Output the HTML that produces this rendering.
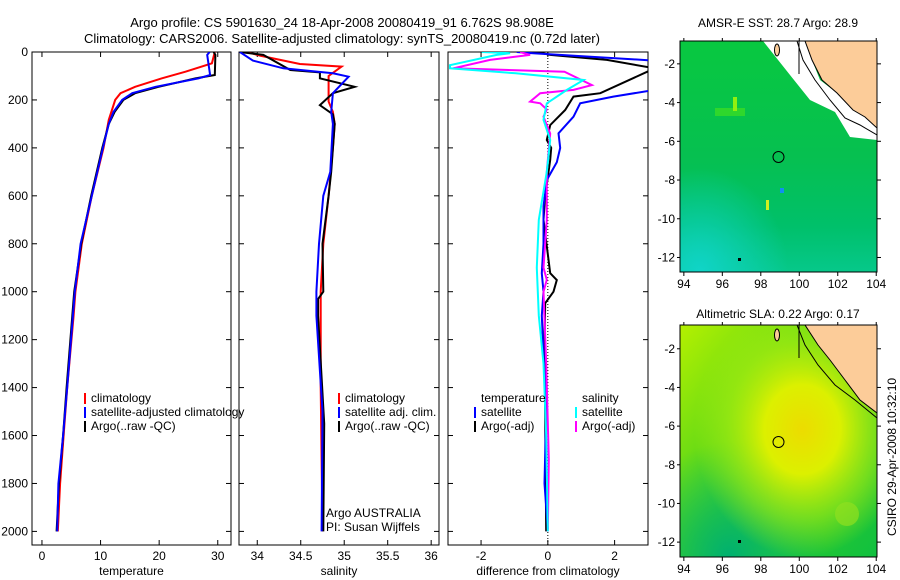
<!DOCTYPE html>
<html><head><meta charset="utf-8"><style>
html,body{margin:0;padding:0;background:#fff;}
svg{display:block;font-family:"Liberation Sans",sans-serif;}
text{font-size:12px;fill:#000;}
</style></head><body>
<svg id="chart" width="900" height="580" viewBox="0 0 900 580" xmlns="http://www.w3.org/2000/svg">
<defs>
<linearGradient id="sstg" x1="0" y1="0" x2="0" y2="1">
<stop offset="0" stop-color="#08c840"/><stop offset="0.5" stop-color="#06c050"/><stop offset="0.8" stop-color="#00c06a"/><stop offset="1" stop-color="#06c88a"/>
</linearGradient>
<radialGradient id="sstc" cx="0.1" cy="1" r="0.45"><stop offset="0" stop-color="#10d4c8"/><stop offset="1" stop-color="#10d4c8" stop-opacity="0"/></radialGradient>
<radialGradient id="slay" cx="0.62" cy="0.45" r="0.55"><stop offset="0" stop-color="#ecdc00"/><stop offset="0.35" stop-color="#dcf000"/><stop offset="0.7" stop-color="#a8ec10" stop-opacity="0.6"/><stop offset="1" stop-color="#a8ec10" stop-opacity="0"/></radialGradient>
<linearGradient id="slag" x1="0" y1="0" x2="1" y2="1"><stop offset="0" stop-color="#b4f000"/><stop offset="0.5" stop-color="#40d020"/><stop offset="1" stop-color="#10c040"/></linearGradient>
<radialGradient id="slab" cx="0.25" cy="1" r="0.5"><stop offset="0" stop-color="#00b070"/><stop offset="1" stop-color="#00b870" stop-opacity="0"/></radialGradient>
<clipPath id="c1"><rect x="32" y="52" width="199" height="493"/></clipPath>
<clipPath id="c2"><rect x="239" y="52" width="200" height="493"/></clipPath>
<clipPath id="c3"><rect x="448" y="52" width="200" height="493"/></clipPath>
<clipPath id="m1"><rect x="680" y="41" width="197" height="231"/></clipPath>
<clipPath id="m2"><rect x="680" y="325" width="197" height="232"/></clipPath>
</defs>
<text x="342" y="27" text-anchor="middle" style="font-size:13px">Argo profile: CS 5901630_24 18-Apr-2008 20080419_91 6.762S 98.908E</text>
<text x="342" y="43" text-anchor="middle" style="font-size:13px">Climatology: CARS2006. Satellite-adjusted climatology: synTS_20080419.nc (0.72d later)</text>
<g id="plots"></g>

<!-- Map 1 SST -->
<g clip-path="url(#m1)">
<rect x="680" y="41" width="197" height="231" fill="url(#sstg)"/>
<rect x="680" y="41" width="197" height="231" fill="url(#sstc)"/>
<rect x="715" y="108" width="30" height="8" fill="#40e020" opacity="0.7"/>
<rect x="733" y="97" width="4" height="14" fill="#90f010"/>
<rect x="766" y="200" width="3" height="10" fill="#d0f020"/>
<rect x="780" y="188" width="4" height="5" fill="#1090f0"/>
<polygon points="763,41 805,41 812,60 820,80 837,93 853,110 865,117 877,128 877,140 850,137 835,112 810,100 790,75" fill="#fff"/>
<polygon points="805,41 877,41 877,128 865,117 853,110 837,93 822,80 812,60" fill="#fccc99" stroke="#000" stroke-width="1"/>
<polyline points="797,41 803,60 815,80 830,100 845,118 860,125 877,135" fill="none" stroke="#000" stroke-width="1"/>
<ellipse cx="777" cy="50" rx="2.5" ry="6" fill="#fccc99" stroke="#000"/>
<line x1="799" y1="41" x2="799" y2="74" stroke="#000"/>
<circle cx="778.5" cy="157" r="5.5" fill="none" stroke="#000"/>
<rect x="738" y="258" width="3" height="3" fill="#000"/>
</g>
<rect x="680" y="41" width="197" height="231" fill="none" stroke="#000"/>
<text x="778" y="27" text-anchor="middle">AMSR-E SST: 28.7 Argo: 28.9</text>

<!-- Map 2 SLA -->
<g clip-path="url(#m2)">
<rect x="680" y="325" width="197" height="232" fill="url(#slag)"/>
<rect x="680" y="325" width="197" height="232" fill="url(#slab)"/>
<rect x="680" y="325" width="197" height="232" fill="url(#slay)"/>
<circle cx="847" cy="514" r="12" fill="#90e020" opacity="0.7"/>
<polygon points="805,325 877,325 877,413 860,400 845,380 830,360 818,345" fill="#fccc99" stroke="#000"/>
<polyline points="797,325 805,345 818,365 835,385 855,400 877,418" fill="none" stroke="#000"/>
<ellipse cx="777" cy="335" rx="2.5" ry="6" fill="#fccc99" stroke="#000"/>
<line x1="799" y1="325" x2="799" y2="358" stroke="#000"/>
<circle cx="778.5" cy="442" r="5.5" fill="none" stroke="#000"/>
<rect x="738" y="540" width="3" height="3" fill="#000"/>
</g>
<rect x="680" y="325" width="197" height="232" fill="none" stroke="#000"/>
<text x="778" y="318" text-anchor="middle">Altimetric SLA: 0.22 Argo: 0.17</text>
<text transform="translate(896,457) rotate(-90)" text-anchor="middle">CSIRO 29-Apr-2008 10:32:10</text>
<g id="maps"></g>
</svg>
<script>
// ---- data ----
const tDepth = [0,47,82,110,145,172,200,283,400,600,800,1000,1100,1400,1600,1800,2000];
const tClim  = [29.5,29.0,24.5,20.4,15.9,13.4,12.5,11.4,10.5,8.5,6.8,5.7,5.4,4.3,3.7,3.1,2.7];
const tSatDepth = [0,12,96,110,145,172,200,250,300,400,600,800,1000,1400,1600,1800,2000];
const tSat  = [28.6,28.2,28.7,26.7,19.4,15.4,13.7,12.2,11.4,10.4,8.5,6.6,5.6,4.3,3.6,2.8,2.6];
const tArgo = [29.3,29.6,29.5,26.2,19.9,15.9,13.9,12.4,11.4,10.3,8.4,6.7,5.5,4.2,3.6,2.9,2.5];
const sClimDepth = [0,15,50,61,100,207,250,300,400,600,800,1000,1400,2000];
const sClim = [33.88,34.03,34.49,34.97,34.82,34.82,34.87,34.89,34.87,34.82,34.76,34.73,34.73,34.75];
const sSatDepth = [0,36,68,89,103,172,250,300,500,600,800,1000,1100,1500,2000];
const sSat = [33.8,33.95,34.3,34.87,35.05,34.87,34.85,34.87,34.84,34.76,34.71,34.68,34.68,34.75,34.74];
const sArgoDepth = [0,12,75,85,110,145,172,222,260,300,500,600,800,1000,1030,1100,1550,2000];
const sArgo = [33.8,34.07,34.38,34.72,34.72,35.12,34.87,34.72,34.87,34.89,34.85,34.82,34.75,34.76,34.7,34.7,34.77,34.76];
const dTDepth = [0,5,36,158,186,214,270,339,400,460,534,645,800,923,1000,1100,1500,1800,1990];
const dTSat  = [-0.93,-0.44,3.2,3.2,1.96,0.97,0.77,0.32,0.37,0.27,-0.03,-0.13,-0.13,-0.18,-0.13,-0.18,-0.05,-0.1,0];
const dTArgoDepth = [0,12,33,68,172,186,242,305,367,400,450,600,700,923,951,1000,1048,1200,2000];
const dTArgo = [-0.33,0.07,1.77,3.2,1.57,0.77,0.52,0.07,-0.03,0.1,0.07,-0.08,-0.13,0.07,0.27,0.17,-0.08,-0.1,-0.05];
const dSDepth = [0,5,12,55,68,89,117,158,214,283,367,500,700,900,1100,1300,1600,2000];
const dSSat = [-1.98,-1.13,-1.53,-2.93,-2.93,-0.96,1.07,0.57,-0.03,-0.13,0.07,-0.03,-0.27,-0.33,-0.27,-0.13,-0.05,0];
const dSArgoDepth = [0,12,33,68,82,138,158,172,207,214,240,270,340,500,700,900,950,1000,1300,1700,2000];
const dSArgo = [-0.83,-0.53,-1.73,-2.83,0.5,1.32,0.77,-0.23,-0.53,-0.23,-0.03,-0.13,0.07,-0.03,-0.03,-0.13,-0.03,-0.13,-0.05,0.03,0];
const depthTicks = [0,200,400,600,800,1000,1200,1400,1600,1800,2000];
const tTicks = [0,10,20,30];
const sTicks = [34,34.5,35,35.5,36];
const dTicks = [-2,0,2];
const latTicks = [-2,-4,-6,-8,-10,-12];
const lonTicks = [94,96,98,100,102,104];

// ---- axes ----
const NS='http://www.w3.org/2000/svg';
const svg=document.getElementById('plots');
const top0=52, bot0=545;
const yD = d => 52 + d*0.2397;
const panels = [
 {name:'temperature',x0:32,x1:231,v0:-1.7,v1:32.26,ticks:tTicks,label:'temperature',clip:'c1'},
 {name:'salinity',x0:239,x1:439,v0:33.79,v1:36.09,ticks:sTicks,label:'salinity',clip:'c2'},
 {name:'difference',x0:448,x1:648,v0:-2.99,v1:3.0,ticks:dTicks,label:'difference from climatology',clip:'c3'}
];
panels.forEach(p=>{p.sx=v=>p.x0+(v-p.v0)/(p.v1-p.v0)*(p.x1-p.x0);});
function mk(tag,attrs,parent){const e=document.createElementNS(NS,tag);for(const k in attrs)e.setAttribute(k,attrs[k]);(parent||svg).appendChild(e);return e;}
panels.forEach((p,i)=>{
 const g=mk('g',{});
 
 
 const r=mk('rect',{x:p.x0,y:top0,width:p.x1-p.x0,height:bot0-top0,fill:'none',stroke:'#000'},g);
 
 
 depthTicks.forEach(d=>{
  mk('line',{x1:p.x0,x2:p.x0+5,y1:yD(d),y2:yD(d),stroke:'#000'},g);
  mk('line',{x1:p.x1,x2:p.x1-5,y1:yD(d),y2:yD(d),stroke:'#000'},g);
  if(i===0){const t=mk('text',{x:28,y:yD(d)+4,'text-anchor':'end'},g);t.textContent=d;
   
   }
 });
 p.ticks.forEach(v=>{
  const x=p.sx(v);
  mk('line',{x1:x,x2:x,y1:bot0,y2:bot0-5,stroke:'#000'},g);
  mk('line',{x1:x,x2:x,y1:top0,y2:top0+5,stroke:'#000'},g);
  const t=mk('text',{x:x,y:560,'text-anchor':'middle'},g);t.textContent=v;
  
  
 });
 const l=mk('text',{x:(p.x0+p.x1)/2,y:575,'text-anchor':'middle'},g);l.textContent=p.label;
 
 
});
const zl=mk('line',{x1:panels[2].sx(0),x2:panels[2].sx(0),y1:top0,y2:bot0,stroke:'#000','stroke-dasharray':'1,2'});



function series(p,depths,vals,color,name){
 const pts=depths.map((d,k)=>p.sx(vals[k]).toFixed(1)+','+yD(d).toFixed(1)).join(' ');
 const e=mk('polyline',{points:pts,fill:'none',stroke:color,'stroke-width':2,'clip-path':'url(#'+p.clip+')'});
 
 
}
series(panels[0],tDepth,tClim,'#f00','temp-climatology-line');
series(panels[0],tSatDepth,tArgo,'#000','temp-argo-line');
series(panels[0],tSatDepth,tSat,'#00f','temp-satellite-line');
series(panels[1],sClimDepth,sClim,'#f00','sal-climatology-line');
series(panels[1],sArgoDepth,sArgo,'#000','sal-argo-line');
series(panels[1],sSatDepth,sSat,'#00f','sal-satellite-line');
series(panels[2],dTArgoDepth,dTArgo,'#000','diff-temp-argo-line');
series(panels[2],dTDepth,dTSat,'#00f','diff-temp-satellite-line');
series(panels[2],dSArgoDepth,dSArgo,'#f0f','diff-sal-argo-line');
series(panels[2],dSDepth,dSSat,'#0ff','diff-sal-satellite-line');

function legend(x,y,color,label,name){
 const g=mk('g',{});
 
 
 if(color) mk('rect',{x:x-7,y:y-9,width:2,height:11,fill:color},g);
 const t=mk('text',{x:x,y:y},g);t.textContent=label;
}
legend(91,402,'#f00','climatology','legend-temp-climatology');
legend(91,416,'#00f','satellite-adjusted climatology','legend-temp-satellite');
legend(91,430,'#000','Argo(..raw -QC)','legend-temp-argo');
legend(345,402,'#f00','climatology','legend-sal-climatology');
legend(345,416,'#00f','satellite adj. clim.','legend-sal-satellite');
legend(345,430,'#000','Argo(..raw -QC)','legend-sal-argo');
legend(326,517,null,'Argo AUSTRALIA','argo-australia-label');
legend(326,531,null,'PI: Susan Wijffels','pi-label');
legend(481,402,null,'temperature','legend-temperature-heading');
legend(481,416,'#00f','satellite','legend-diff-temp-satellite');
legend(481,430,'#000','Argo(-adj)','legend-diff-temp-argo');
legend(582,402,null,'salinity','legend-salinity-heading');
legend(582,416,'#0ff','satellite','legend-diff-sal-satellite');
legend(582,430,'#f0f','Argo(-adj)','legend-diff-sal-argo');

const maps=[{y0:41,y1:272,latTop:-0.82,latBot:-12.75,name:'sst'},{y0:325,y1:557,latTop:-0.77,latBot:-12.77,name:'sla'}];
const lonX=lon=>680+(lon-93.8)/10.24*197;
maps.forEach(m=>{
 const ly=lat=>m.y0+(m.latTop-lat)/(m.latTop-m.latBot)*(m.y1-m.y0);
 latTicks.forEach(v=>{
  mk('line',{x1:677,x2:680,y1:ly(v),y2:ly(v),stroke:'#000'});
  mk('line',{x1:877,x2:881,y1:ly(v),y2:ly(v),stroke:'#000'});
  const t=mk('text',{x:675,y:ly(v)+4,'text-anchor':'end'});t.textContent=v;
  
  
 });
 lonTicks.forEach(v=>{
  mk('line',{x1:lonX(v),x2:lonX(v),y1:m.y1,y2:m.y1+4,stroke:'#000'});
  mk('line',{x1:lonX(v),x2:lonX(v),y1:m.y0,y2:m.y0-3,stroke:'#000'});
  const t=mk('text',{x:lonX(v),y:m.y1+16,'text-anchor':'middle'});t.textContent=v;
  
  
 });
});
</script>
</body></html>
